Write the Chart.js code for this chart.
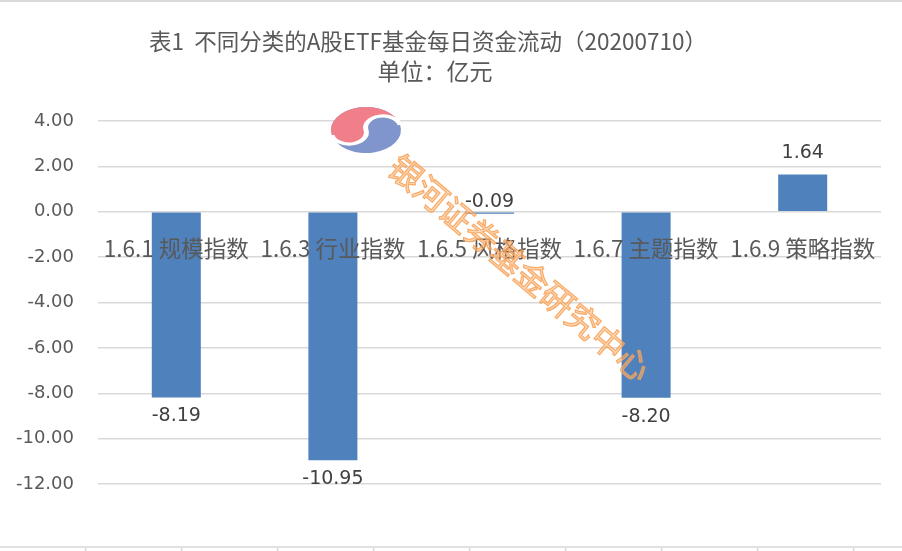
<!DOCTYPE html>
<html lang="zh">
<head>
  <meta charset="UTF-8">
  <title>不同分类的A股ETF基金每日资金流动</title>
  <script src="https://cdn.jsdelivr.net/npm/chart.js"></script>
  <style>
    body { margin: 0; background: #fff; }
    .wrap { width: 902px; height: 551px; position: relative; }
  </style>
</head>
<body>
  <div class="wrap"><canvas id="chart"></canvas></div>

  <script>
    const categories = ['1.6.1 规模指数', '1.6.3 行业指数', '1.6.5 风格指数', '1.6.7 主题指数', '1.6.9 策略指数'];
    const flows = [-8.19, -10.95, -0.09, -8.20, 1.64];
    const yTicks = [4, 2, 0, -2, -4, -6, -8, -10, -12];
    const titleLines = ['表1  不同分类的A股ETF基金每日资金流动（20200710）', '单位：亿元'];
    const watermark = '银河证券基金研究中心';

    const textGray = '#595959';
    const cjk = '"Noto Sans CJK SC", "Noto Sans", sans-serif';

    // little red/blue swirl logo behind the watermark text
    function drawLogo(ctx, cx, cy, rx, ry) {
      const R = rx;
      const spine = () => {
        ctx.arc(0, R / 2, R / 2, Math.PI / 2, -Math.PI / 2, true);
        ctx.arc(0, -R / 2, R / 2, Math.PI / 2, Math.PI * 1.5, false);
      };
      ctx.save();
      ctx.translate(cx, cy);
      ctx.scale(1, ry / rx);
      ctx.rotate(1.35);
      ctx.fillStyle = '#7f95cb';
      ctx.beginPath();
      ctx.arc(0, 0, R, 0, Math.PI * 2);
      ctx.fill();
      ctx.fillStyle = '#f07f89';
      ctx.beginPath();
      ctx.arc(0, 0, R, -Math.PI / 2, Math.PI / 2, true);
      spine();
      ctx.fill();
      ctx.strokeStyle = '#fff';
      ctx.lineWidth = 5;
      ctx.beginPath();
      ctx.moveTo(0, R);
      spine();
      ctx.stroke();
      ctx.restore();
    }

    const decor = {
      id: 'decor',
      beforeDraw(chart) {
        const ctx = chart.ctx;
        ctx.save();
        ctx.fillStyle = '#d9d9d9';
        ctx.fillRect(0, 0, chart.width, 2);
        ctx.strokeStyle = '#d9d9d9';
        ctx.lineWidth = 1.5;
        ctx.beginPath();
        ctx.moveTo(0, 547);
        ctx.lineTo(chart.width, 547);
        for (let x = 85.7; x < chart.width; x += 96) {
          ctx.moveTo(x, 547);
          ctx.lineTo(x, 551);
        }
        ctx.stroke();

        ctx.fillStyle = textGray;
        ctx.textAlign = 'center';
        ctx.textBaseline = 'middle';
        ctx.font = '22.5px ' + cjk;
        ctx.fillText(titleLines[0], 428, 41);
        ctx.font = '23px ' + cjk;
        ctx.fillText(titleLines[1], 435, 71);
        ctx.restore();
      },
      afterDatasetsDraw(chart) {
        const ctx = chart.ctx;
        const meta = chart.getDatasetMeta(0);
        const zero = chart.scales.y.getPixelForValue(0);
        ctx.save();
        ctx.fillStyle = '#404040';
        ctx.font = '19px "DejaVu Sans", sans-serif';
        ctx.textAlign = 'center';
        ctx.textBaseline = 'middle';
        meta.data.forEach((bar, i) => {
          const v = flows[i];
          let y;
          if (v >= 0) y = bar.y - 21;
          else if (v > -0.5) y = zero - 10;
          else y = bar.y + 19;
          ctx.fillText(v.toFixed(2), bar.x, y);
        });
        ctx.restore();
      },
      afterDraw(chart) {
        const ctx = chart.ctx;
        drawLogo(ctx, 366, 130, 35, 23);
        ctx.save();
        ctx.translate(520, 268);
        ctx.rotate(40 * Math.PI / 180);
        ctx.font = '33px ' + cjk;
        ctx.textAlign = 'center';
        ctx.textBaseline = 'middle';
        ctx.fillStyle = 'rgba(253, 185, 125, 0.55)';
        ctx.strokeStyle = 'rgba(248, 160, 85, 0.85)';
        ctx.lineWidth = 1.2;
        ctx.fillText(watermark, 0, 0);
        ctx.strokeText(watermark, 0, 0);
        ctx.restore();
      }
    };

    new Chart(document.getElementById('chart'), {
      type: 'bar',
      data: {
        labels: categories,
        datasets: [{
          data: flows,
          backgroundColor: '#4f81bd',
          barPercentage: 0.313,
          categoryPercentage: 1
        }]
      },
      options: {
        responsive: true,
        maintainAspectRatio: false,
        animation: false,
        layout: { padding: { left: 16, top: 121, right: 21, bottom: 67 } },
        plugins: {
          legend: { display: false },
          tooltip: { enabled: false }
        },
        scales: {
          x: {
            position: { y: 0 },
            grid: { display: false, drawTicks: false },
            border: { display: false },
            ticks: {
              z: 1,
              color: textGray,
              font: { family: cjk, size: 22.5 },
              padding: 23,
              maxRotation: 0,
              autoSkip: false
            }
          },
          y: {
            min: -12,
            max: 4,
            afterBuildTicks: s => { s.ticks = yTicks.map(v => ({ value: v })); },
            afterFit: s => { s.width = 82; },
            grid: { color: '#d9d9d9', lineWidth: 1.5, drawTicks: false },
            border: { display: false },
            ticks: {
              color: textGray,
              font: { family: '"DejaVu Sans", sans-serif', size: 18 },
              padding: 24,
              callback: v => v.toFixed(2)
            }
          }
        }
      },
      plugins: [decor]
    });
  </script>
</body>
</html>
